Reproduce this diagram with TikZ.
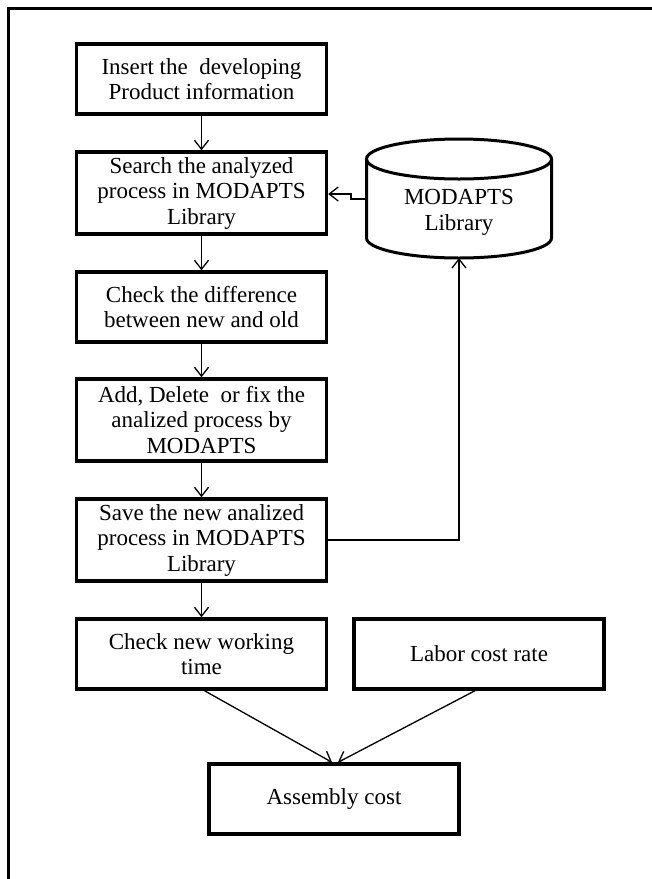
\documentclass[tikz,border=0pt]{standalone}
\usepackage{fontspec}
\setmainfont{Liberation Serif}
\usetikzlibrary{arrows.meta}
\begin{document}
\begin{tikzpicture}[x=1pt,y=-1pt,
  box/.style={draw,line width=3.4pt,minimum width=250pt,align=center,font=\fontsize{23}{25.5}\selectfont,inner sep=0pt},
  conn/.style={line width=1.3pt,-{Straight Barb[length=9pt,width=14pt,line width=1.3pt]}}]
\useasboundingbox (0,0) rectangle (652,879);
\fill[white] (0,0) rectangle (652,879);
\draw[line width=3pt] (8,900) -- (8,8) -- (670,8);
\node[box,minimum height=70pt] (b1) at (201.5,79) {Insert the\ \ developing\\Product information};
\node[box,minimum height=82pt] (b2) at (201.5,193) {Search the analyzed\\process in MODAPTS\\Library};
\node[box,minimum height=70pt] (b3) at (201.5,307) {Check the difference\\between new and old};
\node[box,minimum height=82pt] (b4) at (201.5,420) {Add, Delete\ \ or fix the\\analized process by\\MODAPTS};
\node[box,minimum height=82pt] (b5) at (201.5,540) {Save the new analized\\process in MODAPTS\\Library};
\node[box,minimum height=70pt] (b6) at (201.5,654) {Check new working\\time};
\node[box,minimum height=70pt] (b7) at (479,654) {Labor cost rate};
\node[box,minimum height=70pt] (b8) at (334,799) {Assembly cost};
% cylinder
\draw[line width=3pt,fill=white] (366.5,159) -- (366.5,238) arc[start angle=180,end angle=0,x radius=92.5,y radius=20] -- (551.5,159);
\draw[line width=3pt] (459,159) ellipse[x radius=92.5,y radius=20];
\node[font=\fontsize{23}{26}\selectfont,align=center] (lib) at (459,212) {MODAPTS\\Library};
\coordinate (cw) at (366.5,199);
\coordinate (cb) at (459,258);
\coordinate (j1) at (351,199);
\coordinate (j2) at (351,194);
\coordinate (r5) at (459,540);
\draw[conn] (b1.south) -- (b2.north);
\draw[conn] (b2.south) -- (b3.north);
\draw[conn] (b3.south) -- (b4.north);
\draw[conn] (b4.south) -- (b5.north);
\draw[conn] (b5.south) -- (b6.north);
\draw[conn] (cw) -- (j1) -- (j2) -- (b2.east |- j2);
\draw[conn] (b5.east) -- (r5) -- (cb);
\draw[conn] ([xshift=3pt]b6.south) -- ([xshift=-2pt]b8.north);
\draw[conn] ([xshift=-4pt]b7.south) -- ([xshift=4pt]b8.north);
\end{tikzpicture}
\end{document}
